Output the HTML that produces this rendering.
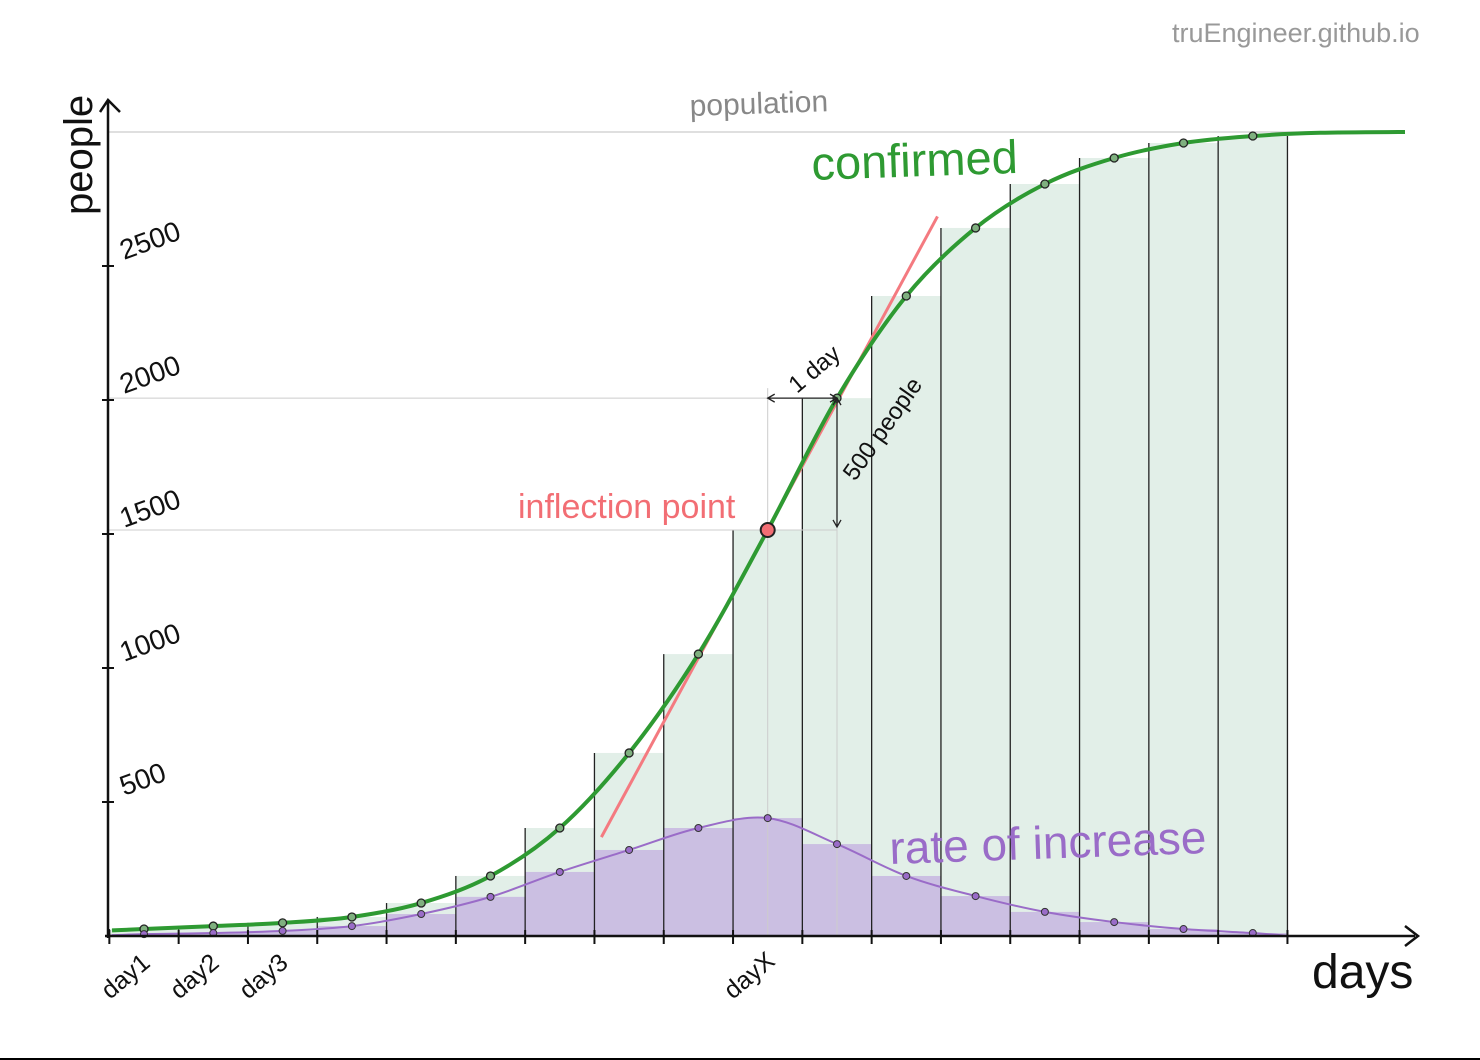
<!DOCTYPE html>
<html><head><meta charset="utf-8"><style>
html,body{margin:0;padding:0;background:#fff;}
svg{display:block;}
text{font-family:"Liberation Sans","DejaVu Sans",sans-serif;}
</style></head><body>
<svg id="chart" width="1480" height="1060" viewBox="0 0 1480 1060">
<rect x="0" y="0" width="1480" height="1058" fill="#fff"/>
<line x1="0" y1="1059" x2="1480" y2="1059" stroke="#000" stroke-width="2"/>
<g id="bars"></g>
<g id="curves"></g>
<g id="axes"></g>
<g id="labels"></g>
</svg>
<script>
const days = [1,2,3,4,5,6,7,8,9,10,11,12,13,14,15,16,17];
const confirmed = [26,37,49,71,123,224,403,683,1052,1515,2007,2388,2642,2806,2903,2959,2985];
const rateOfIncrease = [7,11,19,37,82,146,239,321,403,440,343,224,149,90,52,26,11];
const yTicks = [500,1000,1500,2000,2500];
const xTickLabels = ["day1","day2","day3"];
const population = 3000;
const inflectionDay = 10;

const NS = "http://www.w3.org/2000/svg";
const x0 = 144, dx = 69.3, y0 = 936, ky = 0.268;
const xs = d => x0 + (d - 1) * dx;
const ys = v => y0 - v * ky;
function mk(tag, attrs, parent) {
  const e = document.createElementNS(NS, tag);
  for (const k in attrs) e.setAttribute(k, attrs[k]);
  parent.appendChild(e);
  return e;
}
const gb = document.getElementById('bars');
const gc = document.getElementById('curves');
const ga = document.getElementById('axes');
const bw = dx;

days.forEach((d, i) => {
  const r = mk('rect', {x: xs(d) - bw/2, y: ys(confirmed[i]), width: bw, height: y0 - ys(confirmed[i]), fill: '#e2efe8'}, gb);
  
  
});
days.forEach((d, i) => {
  const r = mk('rect', {x: xs(d) - bw/2, y: ys(rateOfIncrease[i]), width: bw, height: y0 - ys(rateOfIncrease[i]), fill: '#cbbfe2'}, gb);
  
  
});
days.forEach((d, i) => {
  const l = mk('line', {x1: xs(d) - bw/2, x2: xs(d) - bw/2, y1: ys(Math.max(confirmed[i], i > 0 ? confirmed[i-1] : 0)), y2: y0, stroke: '#222', 'stroke-width': 1.3}, gb);
  
  
});
const last = days.length - 1;
const le = mk('line', {x1: xs(days[last]) + bw/2, x2: xs(days[last]) + bw/2, y1: ys(confirmed[last]), y2: y0, stroke: '#222', 'stroke-width': 1.3}, gb);



const infX = xs(inflectionDay), infY = ys(confirmed[inflectionDay-1]);
const nxtX = xs(inflectionDay + 1), nxtY = ys(confirmed[inflectionDay]);
[[108, nxtY, nxtX, nxtY], [108, infY, nxtX, infY], [infX, nxtY - 10, infX, y0], [nxtX, nxtY, nxtX, y0]].forEach(c => {
  const l = mk('line', {x1: c[0], y1: c[1], x2: c[2], y2: c[3], stroke: '#ccc', 'stroke-width': 1}, gb);
  
  
});
const pl = mk('line', {x1: 108, y1: ys(population), x2: 1405, y2: ys(population), stroke: '#ccc', 'stroke-width': 1.2}, gb);



function smooth(pts) {
  let d = `M${pts[0][0]},${pts[0][1]}`;
  for (let i = 0; i < pts.length - 1; i++) {
    const p0 = pts[Math.max(0, i-1)], p1 = pts[i], p2 = pts[i+1], p3 = pts[Math.min(pts.length-1, i+2)];
    d += ` C${p1[0]+(p2[0]-p0[0])/6},${p1[1]+(p2[1]-p0[1])/6} ${p2[0]-(p3[0]-p1[0])/6},${p2[1]-(p3[1]-p1[1])/6} ${p2[0]},${p2[1]}`;
  }
  return d;
}
const slope = (confirmed[inflectionDay] - confirmed[inflectionDay-2]) / 2;
const tl = mk('line', {x1: xs(inflectionDay - 2.4), y1: ys(confirmed[inflectionDay-1] - slope*2.4), x2: xs(inflectionDay + 2.45), y2: ys(confirmed[inflectionDay-1] + slope*2.45), stroke: '#f47a80', 'stroke-width': 3}, gc);



const cp = [[112, ys(confirmed[0]*0.8)]].concat(days.map((d,i)=>[xs(d), ys(confirmed[i])])).concat([[1320, ys(population-3)],[1405, ys(population)]]);
const cl = mk('path', {d: smooth(cp), fill: 'none', stroke: '#2e9a32', 'stroke-width': 4}, gc);


const rp = [[112, ys(3)]].concat(days.map((d,i)=>[xs(d), ys(rateOfIncrease[i])])).concat([[1290, ys(0)]]);
const rl = mk('path', {d: smooth(rp), fill: 'none', stroke: '#9a6cc8', 'stroke-width': 2}, gc);



days.forEach((d, i) => {
  const c = mk('circle', {cx: xs(d), cy: ys(confirmed[i]), r: 4, fill: '#7fb07f', stroke: '#222', 'stroke-width': 1.3}, gc);
  
  
  const p = mk('circle', {cx: xs(d), cy: ys(rateOfIncrease[i]), r: 3.5, fill: '#9a6cc8', stroke: '#333', 'stroke-width': 1}, gc);
  
  
});
const ip = mk('circle', {cx: infX, cy: infY, r: 7, fill: '#f26e74', stroke: '#222', 'stroke-width': 2}, gc);



const ya = mk('path', {d: 'M108,938 L108,100 M100,112 L108,100 L120,112', fill: 'none', stroke: '#111', 'stroke-width': 2.5}, ga);


const xa = mk('path', {d: 'M105,936 L1415,936 M1405,926 L1418,936 L1405,946', fill: 'none', stroke: '#111', 'stroke-width': 2.5}, ga);


yTicks.forEach(v => {
  const l = mk('line', {x1: 102, x2: 114, y1: ys(v), y2: ys(v), stroke: '#111', 'stroke-width': 2}, ga);
  
  
  const t = mk('text', {x: 124, y: ys(v) - 6, 'font-size': 28, fill: '#111', transform: `rotate(-20 124 ${ys(v)-6})`}, ga);
  t.textContent = v;
  
  
});
for (let i = 0; i <= days.length; i++) {
  const x = xs(1) - bw/2 + i*bw;
  const l = mk('line', {x1: x, x2: x, y1: 930, y2: 944, stroke: '#111', 'stroke-width': 2}, ga);
  
  
}
xTickLabels.forEach((s, i) => {
  const x = 110 + i*69, y = 1000;
  const t = mk('text', {x: x, y: y, 'font-size': 25, fill: '#111', transform: `rotate(-40 ${x} ${y})`}, ga);
  t.textContent = s;
  
  
});
const tx = mk('text', {x: infX - 35, y: 1000, 'font-size': 25, fill: '#111', transform: `rotate(-40 ${infX-35} 1000)`}, ga);
tx.textContent = 'dayX';



const a1 = mk('path', {d: `M${infX},${nxtY} L${nxtX},${nxtY} M${infX+7},${nxtY-4} L${infX},${nxtY} L${infX+7},${nxtY+4} M${nxtX-7},${nxtY-4} L${nxtX},${nxtY} L${nxtX-7},${nxtY+4}`, fill: 'none', stroke: '#222', 'stroke-width': 1.3}, ga);


const a2 = mk('path', {d: `M${nxtX},${nxtY} L${nxtX},${infY-3} M${nxtX-4},${nxtY+7} L${nxtX},${nxtY} L${nxtX+4},${nxtY+7} M${nxtX-4},${infY-10} L${nxtX},${infY-3} L${nxtX+4},${infY-10}`, fill: 'none', stroke: '#222', 'stroke-width': 1.3}, ga);


</script>
<script>
const gL = document.getElementById('labels');
const lbl = [
  ['watermark','truEngineer.github.io',1172,42,27,'#999',0],
  ['population-label','population',690,116,30,'#888',-2],
  ['confirmed-label','confirmed',812,180,47,'#2e9a32',-2],
  ['rate-of-increase-label','rate of increase',890,864,46,'#9a6cc8',-2],
  ['inflection-point-label','inflection point',518,518,34,'#f26e74',0],
  ['x-axis-title','days',1312,988,48,'#111',0],
  ['one-day-label','1 day',797,394,24,'#111',-40],
  ['five-hundred-people-label','500 people',855,482,24,'#111',-55],
  ['y-axis-title','people',92,215,40,'#111',-90]
];
lbl.forEach(l => {
  const t = document.createElementNS("http://www.w3.org/2000/svg", 'text');
  t.setAttribute('x', l[2]); t.setAttribute('y', l[3]);
  t.setAttribute('font-size', l[4]); t.setAttribute('fill', l[5]);
  if (l[6]) t.setAttribute('transform', `rotate(${l[6]} ${l[2]} ${l[3]})`);
  t.textContent = l[1];
  
  
  gL.appendChild(t);
});
</script>
</body></html>
